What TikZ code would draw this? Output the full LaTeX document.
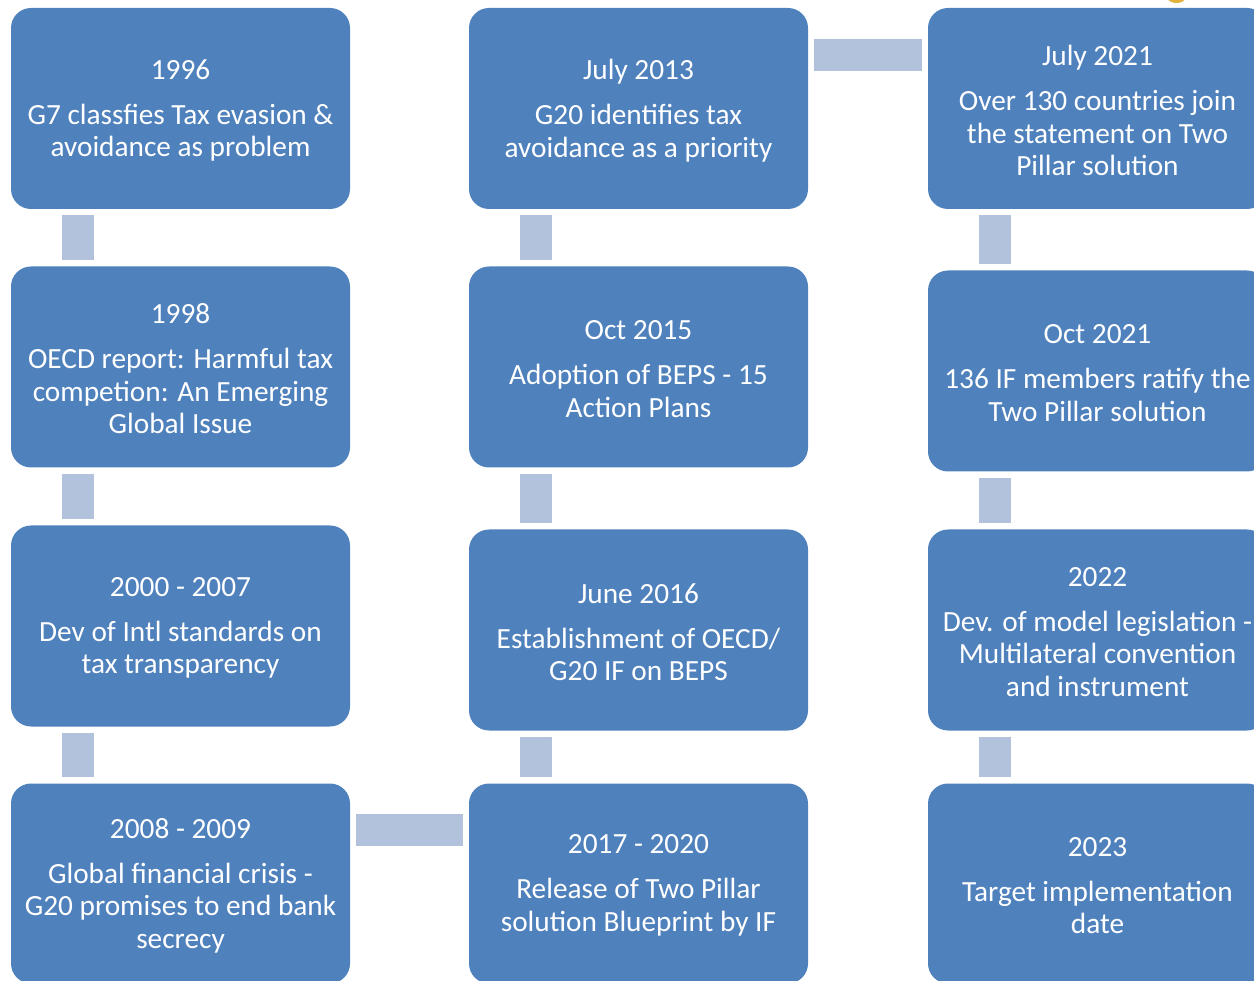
\documentclass[tikz,border=0pt]{standalone}
\usepackage{fontspec}
\setmainfont{Carlito}
\usetikzlibrary{calc}
\definecolor{boxblue}{HTML}{4F81BD}
\definecolor{barblue}{HTML}{B3C2DC}
\definecolor{dotgold}{HTML}{E2B33A}
\tikzset{
  evbox/.style={fill=boxblue, rounded corners=20pt, minimum width=339pt, minimum height=201pt,
    inner sep=0pt},
  evtext/.style={inner sep=0pt, text=white, align=center, font=\fontsize{29.3}{32.5}\selectfont},
  vbar/.style={draw=barblue, line width=32pt, shorten <=6pt, shorten >=6pt},
}
\newcommand{\evnode}[5][]{%
  \node[evbox,#1] (#2) at (#3) {};
  \node[evtext] (#2-t) at ($(#2.center)+(0,2)$) {#4\\[12.5pt]#5};
}
\begin{document}
\begin{tikzpicture}[x=1pt,y=-1pt]
\useasboundingbox (0,0) rectangle (1254,981);
\begin{scope}
\clip (0,0) rectangle (1254,981);
\fill[dotgold] (1176.5,-10.5) circle (13.5);
% column 1
\evnode{a1}{180.5,108.5}{1996}{G7 classfies Tax evasion \&\\avoidance as problem}
\evnode{a2}{180.5,367}{1998}{OECD report: Harmful tax\\competion: An Emerging\\Global Issue}
\evnode{a3}{180.5,626}{2000 - 2007}{Dev of Intl standards on\\tax transparency}
\evnode[minimum height=200pt]{a4}{180.5,883.5}{2008 - 2009}{Global financial crisis -\\G20 promises to end bank\\secrecy}
% column 2
\evnode{b1}{638.5,108.5}{July 2013}{G20 identifies tax\\avoidance as a priority}
\evnode{b2}{638.5,367}{Oct 2015}{Adoption of BEPS - 15\\Action Plans}
\evnode{b3}{638.5,630}{June 2016}{Establishment of OECD/\\G20 IF on BEPS}
\evnode[minimum height=200pt]{b4}{638.5,883.5}{2017 - 2020}{Release of Two Pillar\\solution Blueprint by IF}
% column 3
\evnode{c1}{1097.5,108.5}{July 2021}{Over 130 countries join\\the statement on Two\\Pillar solution}
\evnode{c2}{1097.5,371}{Oct 2021}{136 IF members ratify the\\Two Pillar solution}
\evnode{c3}{1097.5,630}{2022}{Dev. of model legislation -\\Multilateral convention\\and instrument}
\evnode[minimum height=200pt]{c4}{1097.5,883.5}{2023}{Target implementation\\date}
\end{scope}
% vertical connectors
\foreach \u/\v in {a1/a2,a2/a3,a3/a4,b1/b2,b2/b3,b3/b4,c1/c2,c2/c3,c3/c4}{
  \draw[vbar] ($(\u.south west)+(67,0)$) -- ($(\v.north west)+(67,0)$);
}
% horizontal connectors
\draw[vbar] ($(b1.north east)+(0,47.5)$) -- ($(c1.north west)+(0,47.5)$);
\draw[vbar] ($(a4.north east)+(0,46.5)$) -- ($(b4.north west)+(0,46.5)$);
\end{tikzpicture}
\end{document}
